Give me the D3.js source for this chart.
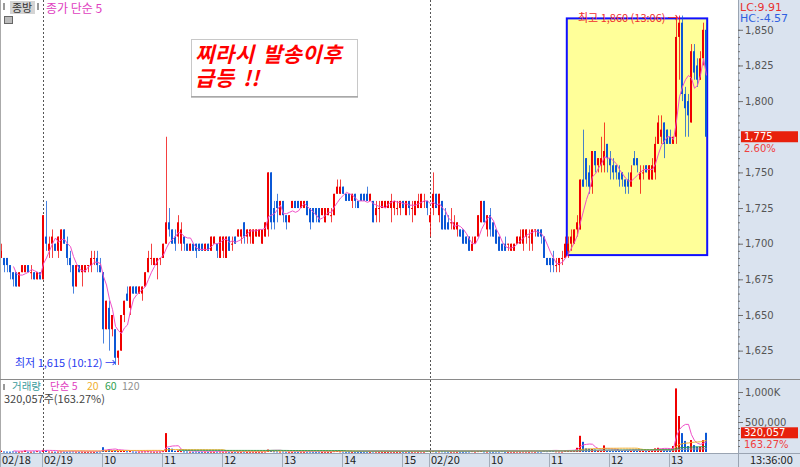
<!DOCTYPE html>
<html>
<head>
<meta charset="utf-8">
<script src="https://cdn.jsdelivr.net/npm/d3@7"></script>
<style>
  html, body { margin: 0; padding: 0; background: #fff; }
  svg { display: block; font-family: "Noto Sans CJK KR", "Noto Sans", sans-serif; }
  .num { font-family: "DejaVu Sans", sans-serif; font-size: 10px; }
</style>
</head>
<body>
<div id="chart"></div>
<script>
// 3-minute candles [open, high, low, close]
const day18 = [
  [1690,1700,1690,1695],[1690,1690,1680,1685],[1690,1690,1680,1685],[1685,1685,1675,1680],[1680,1680,1670,1675],
  [1680,1680,1670,1670],[1670,1680,1670,1680],[1680,1685,1680,1685],[1680,1685,1680,1685],[1685,1685,1680,1680],
  [1680,1685,1675,1680],[1680,1680,1675,1675],[1675,1680,1675,1680],[1680,1680,1675,1675]
];
const day19 = [
  [1675,1720,1675,1720],[1705,1730,1695,1700],[1695,1705,1690,1700],[1700,1710,1690,1705],[1700,1700,1695,1695],[1695,1705,1690,1705],[1695,1710,1695,1710],[1710,1710,1700,1700],[1700,1705,1685,1690],[1690,1695,1680,1685],
  [1685,1685,1665,1670],[1670,1685,1670,1685],[1685,1685,1680,1680],[1680,1685,1670,1685],[1680,1685,1680,1685],[1685,1685,1680,1685],[1685,1695,1680,1690],[1690,1695,1685,1690],[1690,1695,1680,1685],[1685,1690,1680,1680],
  [1680,1680,1630,1640],[1640,1660,1640,1660],[1655,1660,1625,1640],[1640,1650,1635,1650],[1640,1640,1615,1620],[1620,1625,1615,1625],[1625,1650,1625,1650],[1650,1660,1645,1660],[1665,1670,1660,1660],[1655,1670,1650,1670],
  [1670,1670,1665,1665],[1670,1670,1665,1665],[1665,1670,1665,1670],[1665,1670,1660,1670],[1670,1680,1670,1680],[1680,1695,1680,1690],[1690,1700,1685,1690],[1685,1690,1685,1690],[1685,1690,1675,1690],[1690,1690,1685,1690],
  [1690,1700,1690,1700],[1700,1775,1700,1715],[1715,1725,1705,1710],[1710,1710,1700,1700],[1705,1710,1695,1700],[1705,1720,1700,1715],[1700,1715,1695,1710],[1705,1705,1695,1700],[1700,1700,1695,1695],[1695,1700,1695,1700],
  [1700,1700,1695,1695],[1700,1700,1690,1695],[1700,1700,1695,1695],[1700,1700,1695,1695],[1695,1700,1695,1700],[1700,1700,1695,1695],[1695,1705,1695,1705],[1700,1705,1700,1705],[1700,1700,1690,1695],[1690,1705,1690,1705],
  [1695,1705,1690,1705],[1690,1705,1690,1705],[1705,1705,1695,1695],[1700,1705,1695,1700],[1705,1705,1700,1700],[1705,1710,1705,1710],[1705,1710,1700,1710],[1715,1715,1700,1705],[1705,1710,1700,1710],[1705,1710,1700,1710],
  [1700,1710,1700,1710],[1705,1710,1705,1710],[1705,1710,1705,1710],[1700,1710,1700,1710],[1705,1715,1705,1715],[1710,1750,1705,1750],[1750,1750,1710,1715],[1725,1730,1710,1715],[1730,1735,1715,1725],[1720,1730,1720,1730],
  [1730,1730,1715,1720],[1720,1720,1710,1715],[1715,1720,1715,1720],[1725,1730,1725,1730],[1730,1730,1725,1725],[1730,1730,1725,1725],[1725,1730,1725,1730],[1725,1730,1725,1730],[1730,1730,1720,1720],[1725,1725,1710,1715],
  [1725,1725,1715,1715],[1725,1725,1715,1720],[1725,1725,1715,1715],[1720,1725,1720,1725],[1715,1725,1715,1725],[1720,1725,1720,1725],[1720,1725,1715,1720],[1720,1735,1720,1735],[1735,1745,1735,1740],[1735,1745,1735,1740],
  [1740,1740,1735,1735],[1735,1735,1730,1730],[1735,1735,1730,1730],[1730,1735,1725,1735],[1735,1735,1725,1730],[1730,1730,1725,1725],[1735,1735,1730,1730],[1735,1735,1730,1730],[1735,1740,1730,1730],[1730,1735,1730,1735],
  [1730,1730,1715,1715],[1720,1730,1715,1725],[1725,1730,1715,1725],[1725,1730,1725,1730],[1725,1730,1725,1730],[1725,1730,1725,1730],[1725,1735,1715,1730],[1725,1730,1720,1730],[1725,1730,1720,1725],[1725,1730,1720,1730],
  [1730,1730,1725,1725],[1720,1730,1720,1730],[1730,1730,1720,1725],[1725,1730,1715,1725],[1720,1730,1720,1730],[1725,1735,1725,1730],[1725,1735,1725,1735],[1730,1735,1725,1730],[1730,1730,1720,1725]
];
const day20 = [
  [1715,1725,1705,1720],[1725,1750,1720,1735],[1735,1735,1725,1725],[1720,1735,1715,1735],[1730,1730,1710,1710],[1720,1725,1710,1710],[1715,1720,1710,1710],[1715,1725,1710,1715],[1710,1720,1710,1715],[1710,1715,1705,1715],
  [1710,1710,1705,1705],[1710,1710,1700,1700],[1705,1705,1700,1700],[1705,1705,1695,1695],[1695,1705,1695,1700],[1700,1705,1700,1705],[1705,1720,1705,1720],[1715,1730,1715,1730],[1730,1730,1715,1715],[1710,1720,1705,1720],
  [1720,1725,1705,1710],[1715,1715,1705,1705],[1710,1710,1700,1700],[1705,1705,1695,1695],[1700,1700,1695,1695],[1700,1705,1695,1695],[1700,1700,1695,1700],[1695,1700,1695,1700],[1695,1700,1695,1700],[1700,1705,1700,1705],
  [1700,1710,1700,1705],[1700,1710,1695,1710],[1705,1710,1700,1710],[1705,1710,1695,1705],[1700,1710,1695,1710],[1710,1710,1705,1710],[1710,1710,1705,1705],[1710,1710,1700,1705],[1705,1705,1690,1690],[1690,1690,1685,1685],
  [1690,1690,1680,1685],[1690,1695,1680,1685],[1685,1690,1680,1685],[1685,1690,1680,1690],[1690,1695,1685,1690],[1690,1705,1690,1700],[1695,1705,1690,1700],[1700,1710,1695,1705],[1700,1710,1700,1710],[1710,1720,1705,1715],
  [1710,1745,1710,1745],[1745,1780,1740,1740],[1760,1760,1740,1745],[1750,1755,1735,1740],[1740,1765,1735,1765],[1765,1765,1750,1755],[1755,1760,1750,1760],[1755,1775,1750,1760],[1755,1785,1750,1765],[1770,1770,1750,1760],
  [1760,1765,1745,1755],[1755,1760,1745,1750],[1755,1755,1745,1750],[1750,1755,1740,1745],[1750,1750,1740,1745],[1745,1745,1735,1740],[1745,1750,1735,1740],[1740,1755,1740,1750],[1760,1765,1755,1755],[1760,1760,1750,1755],
  [1745,1755,1735,1750],[1750,1755,1745,1750],[1755,1755,1750,1750],[1745,1755,1745,1755],[1745,1760,1745,1755],[1750,1775,1745,1770],[1770,1790,1770,1785],[1775,1790,1770,1780],[1785,1785,1760,1770],[1780,1780,1770,1770],
  [1775,1780,1770,1770],[1770,1775,1770,1775],[1775,1860,1770,1845],[1845,1860,1815,1855],[1855,1860,1800,1805],[1805,1810,1775,1795],[1800,1805,1775,1790],[1785,1840,1785,1835],[1835,1840,1815,1820],[1825,1830,1810,1815],
  [1815,1835,1815,1830],[1830,1855,1825,1850],[1850,1855,1775,1775]
];

// volume per candle (shares)
const vol18 = [22000,8000,6000,5000,9000,7000,6000,10000,25000,5000,6000,8000,15000,7000];
const vol19 = [
  35000,30000,8000,6000,5000,7000,9000,6000,5000,8000,
  10000,7000,5000,6000,4000,5000,6000,4000,5000,9000,
  80000,30000,45000,25000,30000,15000,20000,18000,12000,15000,
  8000,6000,7000,9000,10000,12000,8000,6000,7000,8000,
  15000,315000,65000,55000,20000,25000,15000,10000,8000,6000,
  5000,7000,4000,5000,6000,4000,6000,5000,7000,8000,
  6000,7000,5000,4000,5000,6000,5000,7000,4000,5000,
  6000,4000,5000,6000,9000,40000,30000,12000,10000,8000,
  9000,6000,5000,4000,5000,4000,6000,5000,6000,7000,
  5000,4000,6000,3000,5000,4000,5000,15000,18000,12000,
  8000,5000,6000,4000,5000,4000,3000,5000,6000,4000,
  9000,7000,5000,4000,3000,4000,6000,5000,4000,5000,
  6000,7000,5000,6000,8000,6000,9000,7000,20000
];
const vol20 = [
  25000,15000,8000,10000,12000,9000,7000,6000,8000,5000,
  6000,5000,7000,9000,15000,8000,15000,20000,10000,8000,
  7000,6000,9000,8000,15000,6000,5000,7000,6000,8000,
  7000,9000,8000,6000,10000,7000,8000,9000,20000,15000,
  25000,20000,12000,10000,9000,30000,25000,20000,25000,70000,
  270000,170000,60000,55000,50000,40000,30000,25000,110000,30000,
  20000,15000,18000,25000,20000,30000,25000,20000,35000,25000,
  20000,18000,15000,20000,40000,60000,70000,45000,45000,40000,
  35000,100000,1060000,600000,315000,185000,100000,200000,115000,90000,
  90000,196030,320057
];

// time axis: candle index where each label starts
const timeTickIdx  = [0, 14, 34, 54, 74, 94, 114, 134, 143, 163, 183, 203, 223];
const timeTickText = ['02/18', '02/19', '10', '11', '12', '13', '14', '15', '02/20', '10', '11', '12', '13'];
const dayStartIdx = [14, 143];

const priceTicks = [1625, 1650, 1675, 1700, 1725, 1750, 1800, 1825, 1850];
const volTicks = [500000, 1000000];
const volTickText = ['500,000', '1,000K'];

const lastPrice = 1775, lastPct = '2.60%';
const lastVol = 320057, lastVolPct = '163.27%';
const lowMark  = { idx: 38,  price: 1615, text: '최저 1,615 (10:12) →' };
const highMark = { idx: 225, price: 1860, text: '최고 1,860 (13:06) →' };
const box = { from: 188.6, to: 235.4, low: 1692, high: 1858 };

const W = 800, H = 467;
const plotW = 738, priceBot = 379, volBot = 452, axisTop = 453;

const candles = [].concat(day18, day19, day20).map((d, i) => ({ i, o: d[0], h: d[1], l: d[2], c: d[3] }));
const volumes = [].concat(vol18, vol19, vol20);
const n = candles.length;

const x = d3.scaleLinear().domain([0, n - 1]).range([1, 1 + 3 * (n - 1)]);
const y = d3.scaleLinear().domain([1615, 1850]).range([364.9, 29.8]);
const yv = d3.scaleLinear().domain([0, 1000000]).range([volBot, 392]);

const up = '#f00000', down = '#0b58d6';
const colorOf = d => d.c >= d.o ? up : down;

function movingAvg(vals, k) {
  return vals.map((v, i) => i < k - 1 ? null : d3.mean(vals.slice(i - k + 1, i + 1)));
}

const svg = d3.select('#chart').append('svg').attr('width', W).attr('height', H);

// panels
svg.append('rect').attr('width', W).attr('height', H).attr('fill', '#fff');
svg.append('rect').attr('x', plotW).attr('y', 0).attr('width', W - plotW).attr('height', H).attr('fill', '#dae3ef');
svg.append('rect').attr('x', 0).attr('y', axisTop).attr('width', W).attr('height', H - axisTop).attr('fill', '#dae3ef');

const defs = svg.append('defs');
defs.append('clipPath').attr('id', 'clipP').append('rect').attr('x', 1).attr('y', 0).attr('width', plotW - 1).attr('height', priceBot);
defs.append('clipPath').attr('id', 'clipV').append('rect').attr('x', 1).attr('y', priceBot + 1).attr('width', plotW - 1).attr('height', volBot - priceBot);

// highlight box
svg.append('rect')
   .attr('x', x(box.from)).attr('y', y(box.high))
   .attr('width', x(box.to) - x(box.from)).attr('height', y(box.low) - y(box.high))
   .attr('fill', '#ffff99').attr('stroke', '#1010ff').attr('stroke-width', 2);

// day separators
svg.selectAll('.daysep')
   .data(dayStartIdx)
   .enter().append('line')
   .attr('x1', d => x(d) + 0.5).attr('x2', d => x(d) + 0.5)
   .attr('y1', 0).attr('y2', axisTop)
   .attr('stroke', '#555').attr('stroke-dasharray', '2,2');

// candles
const pg = svg.append('g').attr('clip-path', 'url(#clipP)');
pg.selectAll('.wick')
  .data(candles).enter().append('rect')
  .attr('x', d => x(d.i)).attr('width', 1)
  .attr('y', d => y(d.h)).attr('height', d => Math.max(1, y(d.l) - y(d.h)))
  .attr('fill', colorOf).attr('opacity', 0.75);
pg.selectAll('.body')
  .data(candles).enter().append('rect')
  .attr('x', d => x(d.i) - 1).attr('width', 2)
  .attr('y', d => y(Math.max(d.o, d.c)))
  .attr('height', d => Math.max(1, Math.abs(y(d.o) - y(d.c))))
  .attr('fill', colorOf);

// close MA5
const ma5 = movingAvg(candles.map(d => d.c), 5);
pg.append('path')
  .datum(ma5)
  .attr('fill', 'none').attr('stroke', '#f050c8').attr('stroke-width', 1)
  .attr('d', d3.line().defined(d => d != null).x((d, i) => x(i) + 0.5).y(d => y(d)));

// volume bars
const vg = svg.append('g').attr('clip-path', 'url(#clipV)');
vg.selectAll('.vol')
  .data(candles).enter().append('rect')
  .attr('x', d => x(d.i) - 1).attr('width', 2)
  .attr('y', d => yv(volumes[d.i]))
  .attr('height', d => Math.max(1, yv(0) - yv(volumes[d.i])))
  .attr('fill', colorOf);

const volMa = [[5, '#f050c8'], [20, '#f0b030'], [60, '#30a050'], [120, '#9a9a9a']];
volMa.forEach(([k, col]) => {
  vg.append('path')
    .datum(movingAvg(volumes, k))
    .attr('fill', 'none').attr('stroke', col).attr('stroke-width', 1)
    .attr('d', d3.line().defined(d => d != null).x((d, i) => x(i) + 0.5).y(d => yv(d) - 0.5));
});

// frame lines
svg.append('line').attr('x1', 0.5).attr('x2', 0.5).attr('y1', 0).attr('y2', axisTop).attr('stroke', '#aaa');
svg.append('line').attr('x1', 0).attr('x2', W).attr('y1', priceBot + 0.5).attr('y2', priceBot + 0.5).attr('stroke', '#8a8a8a');
svg.append('line').attr('x1', 0).attr('x2', W).attr('y1', axisTop + 0.5).attr('y2', axisTop + 0.5).attr('stroke', '#9aa4b2');
svg.append('line').attr('x1', plotW + 0.5).attr('x2', plotW + 0.5).attr('y1', 0).attr('y2', H).attr('stroke', '#9aa4b2');

// price axis
const fmt = d3.format(',');
function styleAxis(a) {
  a.select('.domain').remove();
  a.selectAll('line').attr('stroke', '#707070');
  a.selectAll('text').attr('class', 'num').attr('fill', '#555');
}
styleAxis(svg.append('g').attr('transform', `translate(${plotW},0)`)
  .call(d3.axisRight(y).tickValues(d3.range(1620, 1851, 5)).tickSize(2).tickFormat('')));
styleAxis(svg.append('g').attr('transform', `translate(${plotW},0)`)
  .call(d3.axisRight(y).tickValues(priceTicks).tickSize(5).tickPadding(2).tickFormat(fmt)));

// volume axis
styleAxis(svg.append('g').attr('transform', `translate(${plotW},0)`)
  .call(d3.axisRight(yv).tickValues(d3.range(100000, 1000001, 100000)).tickSize(2).tickFormat('')));
styleAxis(svg.append('g').attr('transform', `translate(${plotW},0)`)
  .call(d3.axisRight(yv).tickValues(volTicks).tickSize(5).tickPadding(2).tickFormat((d, i) => volTickText[i])));

// last price / volume tags
function tag(yPos, label, sub) {
  svg.append('rect').attr('x', plotW + 3).attr('y', yPos - 5.5).attr('width', 57).attr('height', 11).attr('fill', '#e8200c');
  svg.append('text').attr('class', 'num').attr('x', plotW + 6).attr('y', yPos + 3.5).attr('fill', '#fff').text(label);
  svg.append('text').attr('class', 'num').attr('x', plotW + 6).attr('y', yPos + 15).attr('fill', '#f04040').text(sub);
}
tag(y(lastPrice), fmt(lastPrice), lastPct);
tag(yv(lastVol), fmt(lastVol), lastVolPct);

// LC / HC
svg.append('text').attr('class', 'num').attr('x', plotW + 2).attr('y', 11).attr('fill', '#e83030').style('font-size', '11px').text('LC:9.91');
svg.append('text').attr('class', 'num').attr('x', plotW + 2).attr('y', 22).attr('fill', '#3060e0').style('font-size', '11px').text('HC:-4.57');

// time axis
const tg = svg.append('g');
tg.selectAll('line').data(timeTickIdx).enter().append('line')
  .attr('x1', d => x(d) - 0.5).attr('x2', d => x(d) - 0.5)
  .attr('y1', axisTop).attr('y2', H).attr('stroke', '#a3adba');
tg.selectAll('text').data(timeTickIdx).enter().append('text')
  .attr('x', d => x(d) + 1).attr('y', 464)
  .attr('fill', '#222').style('font-size', '11px')
  .text((d, i) => timeTickText[i]);
svg.append('text').attr('x', 750).attr('y', 464).attr('fill', '#222').style('font-size', '11px').text('13:36:00');

// high / low marks
svg.append('text').attr('x', x(highMark.idx) + 3).attr('y', y(highMark.price) + 6)
  .attr('text-anchor', 'end').attr('fill', '#f03030').style('font-size', '11px').text(highMark.text);
svg.append('text').attr('x', x(lowMark.idx) + 1).attr('y', y(lowMark.price) + 2)
  .attr('text-anchor', 'end').attr('fill', '#2a3cf0').style('font-size', '11px').text(lowMark.text);

// header legend
svg.append('rect').attr('x', 10).attr('y', 1).attr('width', 25).attr('height', 13).attr('fill', '#d4d4d4');
svg.append('text').attr('x', 12).attr('y', 12).attr('fill', '#333').style('font-size', '11px').text('종방');
svg.append('rect').attr('x', 3).attr('y', 3).attr('width', 2).attr('height', 7).attr('fill', '#999');
svg.append('rect').attr('x', 37).attr('y', 3).attr('width', 2).attr('height', 7).attr('fill', '#999');
svg.append('rect').attr('x', 4.5).attr('y', 16.5).attr('width', 8).attr('height', 7).attr('fill', '#bbb').attr('stroke', '#666');
svg.append('text').attr('x', 46).attr('y', 13).attr('fill', '#e040c0').style('font-size', '12px').text('종가 단순 5');

svg.append('rect').attr('x', 3).attr('y', 384).attr('width', 2).attr('height', 6).attr('fill', '#999');
const volLegend = [['거래량', 12, '#3a9c9c'], ['단순 5', 50, '#e040c0'], ['20', 87, '#f0b030'], ['60', 105, '#30a050'], ['120', 122, '#909090']];
svg.selectAll('.vleg').data(volLegend).enter().append('text')
  .attr('x', d => d[1]).attr('y', 390).attr('fill', d => d[2]).style('font-size', '10.5px').text(d => d[0]);
svg.append('text').attr('x', 4).attr('y', 403).attr('fill', '#444').style('font-size', '11px').text('320,057주(163.27%)');

// callout
svg.append('rect').attr('x', 191.5).attr('y', 39.5).attr('width', 166).attr('height', 57)
   .attr('fill', '#fff').attr('stroke', '#c8c8c8');
svg.append('line').attr('x1', 191).attr('x2', 358).attr('y1', 97).attr('y2', 97).attr('stroke', '#888');
const note = svg.append('text').attr('fill', '#ff0000').style('font-size', '21px')
  .style('font-weight', 'bold').style('font-style', 'italic')
  .style('letter-spacing', '0.5px').style('word-spacing', '3px');
note.append('tspan').attr('x', 195).attr('y', 62).text('찌라시 발송이후');
note.append('tspan').attr('x', 195).attr('y', 86).text('급등 !!');
</script>
</body>
</html>
